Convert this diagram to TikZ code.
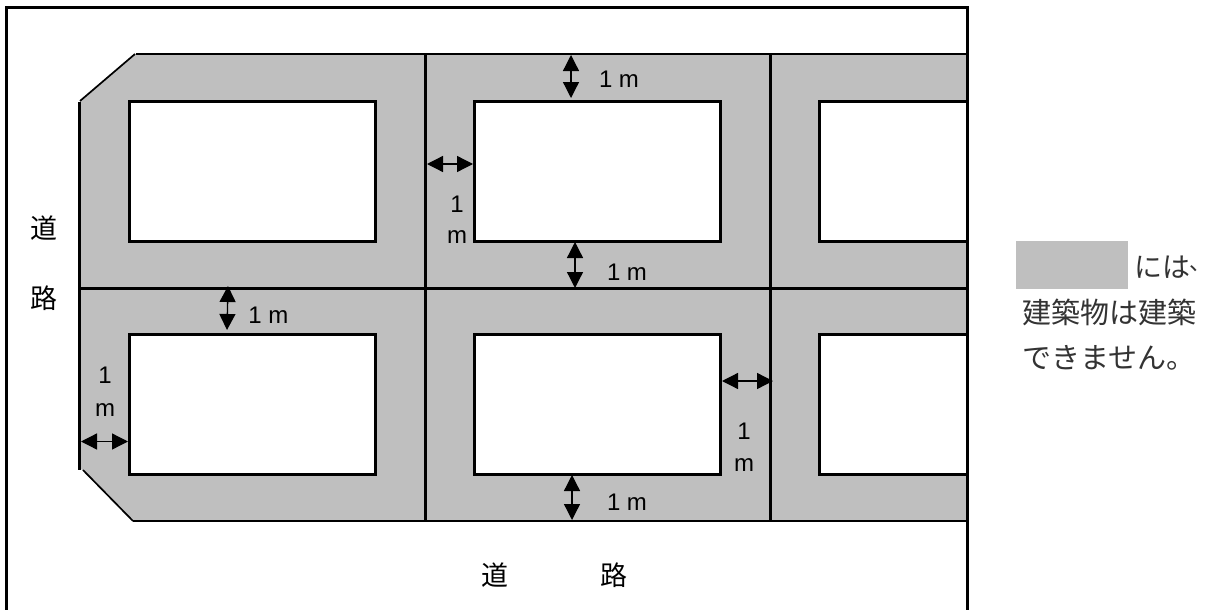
\documentclass[tikz,border=0pt]{standalone}
\usepackage{fontspec}
\setmainfont{Liberation Sans}
\newfontfamily\jpa{Noto Sans CJK JP}
\usetikzlibrary{arrows.meta}
\definecolor{zone}{RGB}{191,191,191}
\tikzset{
 x=1pt,y=-1pt,
 heavy/.style={line width=2.9pt,black},
 lot/.style={draw=black,line width=2.9pt,fill=white,inner sep=0pt,outer sep=0pt,minimum height=140pt},
 lotw/.style={lot,minimum width=245.5pt},
 lotc/.style={lot,minimum width=147.4pt},
 dim/.style={line width=1.3pt,{Triangle[length=16pt,width=16pt]}-{Triangle[length=16pt,width=16pt]}},
 meas/.style={font=\fontsize{24}{24}\selectfont,inner sep=0pt,anchor=base},
 road/.style={font=\jpa\fontsize{27}{27}\selectfont,inner sep=0pt},
 note/.style={font=\jpa\fontsize{29}{29}\selectfont,inner sep=0pt,anchor=west,text=black!80}
}
\begin{document}
\begin{tikzpicture}
\useasboundingbox (0,0) rectangle (1212,610);
\fill[white] (0,0) rectangle (1212,610);
% zone
\fill[zone] (135,54) -- (967,54) -- (967,520) -- (133,520) -- (80,468) -- (80,101) -- cycle;
% lots
\node[lotw] (l1) at (252.5,171.4) {};
\node[lotw] (l2) at (597.5,171.4) {};
\node[lotc] (l3) at (893.5,171.4) {};
\node[lotw] (l4) at (252.5,404.4) {};
\node[lotw] (l5) at (597.5,404.4) {};
\node[lotc] (l6) at (893.5,404.4) {};
% frame
\draw[heavy] (6.5,610) -- (6.5,7.5) -- (967.5,7.5) -- (967.5,610);
% lines
\draw[heavy] (136,54) -- (967,54);
\draw[heavy] (133,521) -- (967,521);
\draw[heavy] (79.5,288.5) -- (967,288.5);
\draw[heavy] (425.5,54) -- (425.5,521);
\draw[heavy] (770.5,54) -- (770.5,521);
\draw[heavy] (79.5,102) -- (79.5,470);
\draw[line width=1.7pt] (80,101) -- (135,54);
\draw[line width=1.7pt] (83,470) -- (133,521);
% dims
\coordinate (a1) at (571,55); \coordinate (b1) at (571,98);
\coordinate (a2) at (575,242); \coordinate (b2) at (575,288);
\coordinate (a3) at (228,286); \coordinate (b3) at (227,330);
\coordinate (a4) at (572,475); \coordinate (b4) at (572,520);
\coordinate (a5) at (427,164); \coordinate (b5) at (473,164);
\coordinate (a6) at (81,441.5); \coordinate (b6) at (128,441.5);
\coordinate (a7) at (722,381); \coordinate (b7) at (773,381);
\foreach \i in {1,...,7} \draw[dim] (a\i) -- (b\i);
% measures
\node[meas] (m1) at (619,87) {1 m};
\node[meas] (m2) at (627,280) {1 m};
\node[meas] (m3) at (268.5,323) {1 m};
\node[meas] (m4) at (627,510) {1 m};
\node[meas] (m5a) at (457,212) {1};
\node[meas] (m5b) at (457,243) {m};
\node[meas] (m6a) at (105,383) {1};
\node[meas] (m6b) at (105,416) {m};
\node[meas] (m7a) at (744,439) {1};
\node[meas] (m7b) at (744,471) {m};
% road labels
\node[road] (r1) at (44,228) {道};
\node[road] (r2) at (44,298) {路};
\node[road] (r3) at (495,575) {道};
\node[road] (r4) at (613.5,575) {路};
% note
\fill[zone] (1016,241) rectangle (1128,289);
\node[note,font=\jpa\fontsize{28}{28}\selectfont] (n1) at (1134.5,267) {には};
\node[note,font=\jpa\fontsize{22}{22}\selectfont,anchor=east] (n1b) at (1212,269) {、};
\node[note] (n2) at (1022,312) {建築物は建築};
\node[note] (n3) at (1022,358) {できません。};
\end{tikzpicture}
\end{document}
